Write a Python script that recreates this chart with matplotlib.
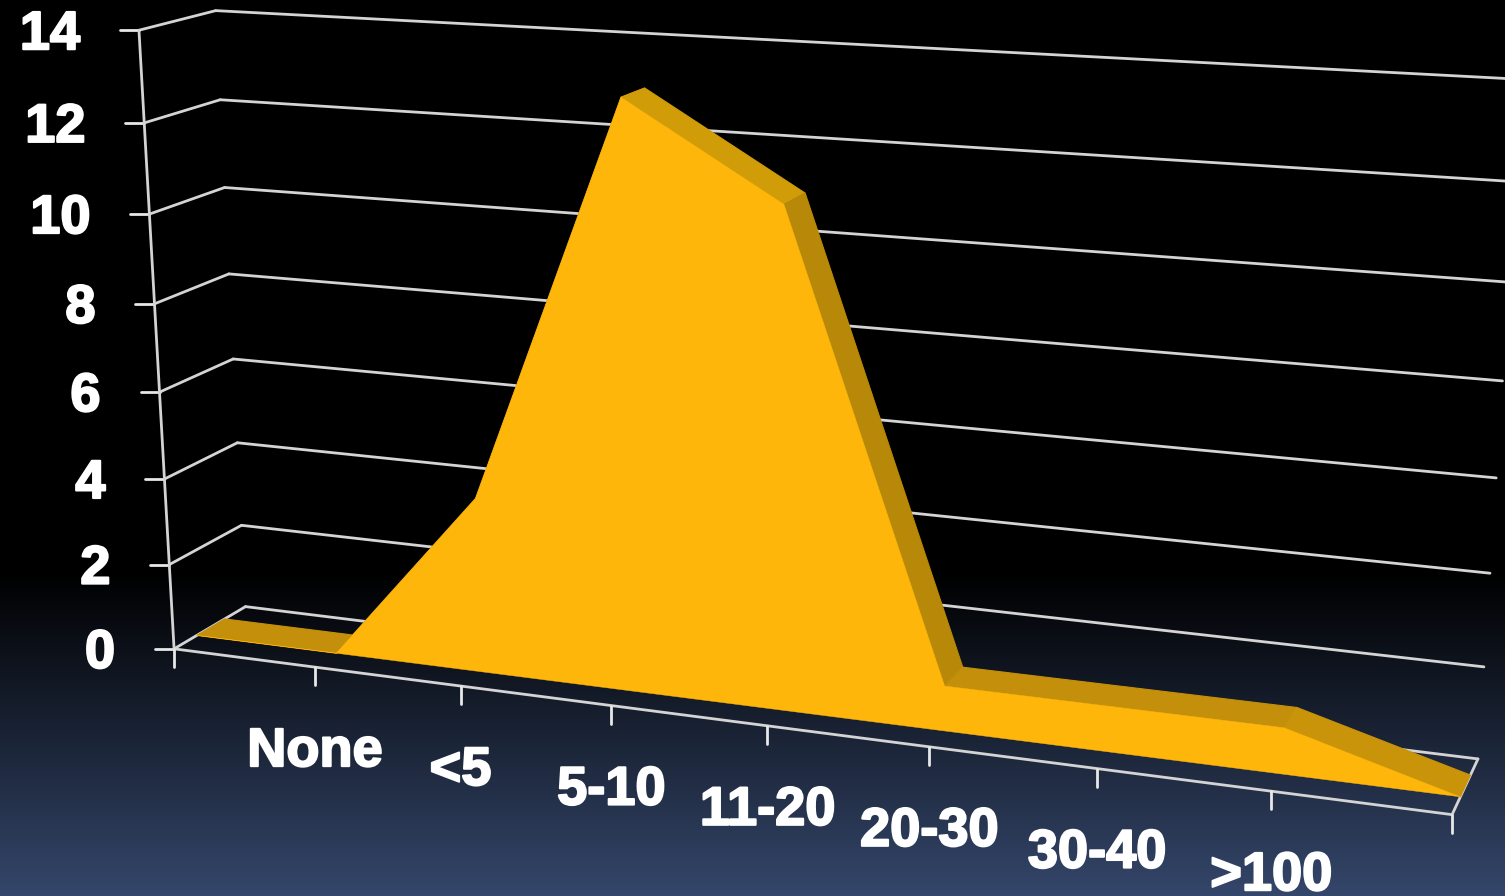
import numpy as np
import matplotlib
matplotlib.use('Agg')
import matplotlib.pyplot as plt
import matplotlib.patheffects as pe
from matplotlib.colors import LinearSegmentedColormap

# chart data
categories = ['None', '<5', '5-10', '11-20', '20-30', '30-40', '>100']
# blank slots at both ends, as in the original sheet
values = [0, 0, 4, 13, 11, 1, 1, 1, 0]
yticks = [0, 2, 4, 6, 8, 10, 12, 14]
# shade of the top band for each segment
band_shades = ['#c48f0a', '#c48f0a', '#c48f0a', '#d09c08', '#b88808',
               '#c48f0a', '#c48f0a', '#ca940a']

W, H = 1505, 896
nCat = len(values) - 1
yMax = yticks[-1]
wFront, wBack = 0.31, 0.70

# perspective camera, fitted on the plot box corners (cat, value, depth) -> pixel
anchors3d = np.array([[0, 0, 0], [nCat, 0, 0], [0, yMax, 0], [0, 0, 1],
                      [nCat, 0, 1], [0, yMax, 1], [nCat, yMax, 1],
                      [0, 6, 0], [0, 10, 0], [0, 6, 1], [0, 10, 1],
                      [nCat, 2, 1], [nCat, 4, 1]], float)
anchors2d = np.array([[175, 649], [1452, 815], [139, 31], [245, 607],
                      [1478, 757], [216, 11], [1522, 79],
                      [159, 392], [149, 213], [233, 359], [225, 187],
                      [1484, 668], [1490, 574]], float)
rows = []
rhs = []
for (a, b, c), (px, py) in zip(anchors3d, anchors2d):
    rows.append([a, b, c, 1, 0, 0, 0, 0, -px * a, -px * b, -px * c])
    rhs.append(px)
    rows.append([0, 0, 0, 0, a, b, c, 1, -py * a, -py * b, -py * c])
    rhs.append(py)
sol = np.linalg.lstsq(np.array(rows), np.array(rhs), rcond=None)[0]
P = np.append(sol, 1.0).reshape(3, 4)


def project(u, v, w):
    q = P @ np.array([u, v, w, 1.0])
    return q[0] / q[2], q[1] / q[2]


fig = plt.figure(figsize=(W / 100, H / 100), dpi=100)
ax = fig.add_axes([0, 0, 1, 1])
ax.set_xlim(0, W)
ax.set_ylim(H, 0)
ax.axis('off')

# background
cmap = LinearSegmentedColormap.from_list('bg', ['#000000', '#34466a'])
grad = np.linspace(0, 1, H).reshape(-1, 1)
grad = np.clip((grad - 0.64) / 0.36, 0, 1)
ax.imshow(grad, extent=[0, W, H, 0], aspect='auto', cmap=cmap, vmin=0, vmax=1, zorder=0)

lineCol = '#d4d4d4'
lw = 2.0


def seg(p0, p1, **kw):
    ax.plot([p0[0], p1[0]], [p0[1], p1[1]], color=kw.get('color', lineCol),
            lw=kw.get('lw', lw), solid_capstyle='round', zorder=kw.get('zorder', 2))


# gridlines, side wall and back wall
for v in yticks:
    seg(project(0, v, 0), project(0, v, 1))
    seg(project(0, v, 1), project(nCat, v, 1))
    # tick
    x0, y0 = project(0, v, 0)
    seg((x0 - 19, y0), (x0, y0), color='#e8e8e8')
seg(project(0, 0, 0), project(0, yMax, 0))
# floor
seg(project(0, 0, 0), project(nCat, 0, 0))
seg(project(nCat, 0, 0), project(nCat, 0, 1))
for u in range(nCat + 1):
    x0, y0 = project(u, 0, 0)
    seg((x0, y0), (x0, y0 + 18), color='#e8e8e8')

# area top band
for i in range(nCat):
    pts = [project(i, values[i], wFront), project(i + 1, values[i + 1], wFront),
           project(i + 1, values[i + 1], wBack), project(i, values[i], wBack)]
    ax.fill([p[0] for p in pts], [p[1] for p in pts], color=band_shades[i], lw=0.8, zorder=3)

# area front face
front = [project(i, v, wFront) for i, v in enumerate(values)]
front += [project(nCat, 0, wFront), project(0, 0, wFront)]
ax.fill([p[0] for p in front], [p[1] for p in front], color='#ffb60b', lw=0.3, zorder=4)

# labels
txtKw = dict(color='white', family='Liberation Sans', fontweight='bold', fontsize=39,
             path_effects=[pe.withStroke(linewidth=1.5, foreground='white')], zorder=6)
for v in yticks:
    x0, y0 = project(0, v, 0)
    ax.text(x0 - 59, y0 + 5, str(v), ha='right', va='center', **txtKw)
for i, c in enumerate(categories):
    x0, y0 = project(i + 1, 0, 0)
    ax.text(x0, y0 + 85, c, ha='center', va='center', **txtKw)

fig.savefig('out.png', dpi=100)
